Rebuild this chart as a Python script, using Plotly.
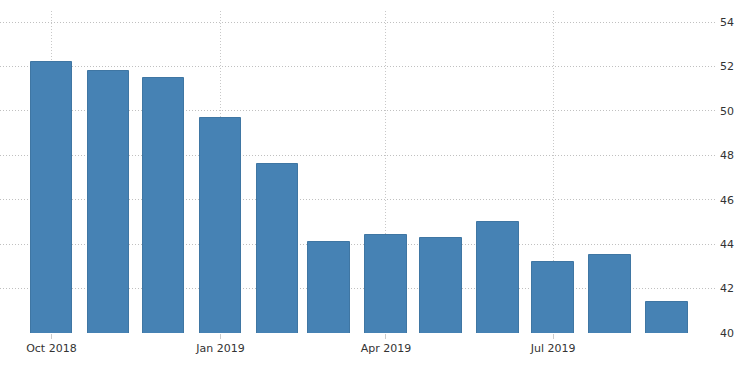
import plotly.graph_objects as go

months = ["2018-10-01", "2018-11-01", "2018-12-01", "2019-01-01", "2019-02-01", "2019-03-01",
          "2019-04-01", "2019-05-01", "2019-06-01", "2019-07-01", "2019-08-01", "2019-09-01"]
values = [52.2, 51.8, 51.5, 49.7, 47.6, 44.1, 44.4, 44.3, 45.0, 43.2, 43.5, 41.4]
y_ticks = [40, 42, 44, 46, 48, 50, 52, 54]

DAY = 86400000

fig = go.Figure(go.Bar(
    x=months, y=values,
    width=[22.6 * DAY] * len(months),
    marker=dict(color="#4682b4", line=dict(color="#3f76a3", width=1)),
    hoverinfo="x+y",
))

fig.update_layout(
    width=750, height=373,
    margin=dict(l=0, r=34, t=11, b=40),
    plot_bgcolor="white", paper_bgcolor="white",
    showlegend=False,
    font=dict(family="DejaVu Sans, Verdana, sans-serif", size=11, color="#333333"),
    bargap=0,
)
fig.update_xaxes(
    type="date",
    range=["2018-09-03 01:00", "2019-09-27 14:00"],
    tick0="2018-10-01", dtick="M3", tickformat="%b %Y",
    showgrid=True, gridcolor="#c8c8c8", griddash="1px,2px", gridwidth=1,
    ticks="outside", ticklen=5, tickcolor="#cccccc",
    showline=False, zeroline=False,
    tickfont=dict(size=11, color="#333333"),
)
fig.update_yaxes(
    side="right",
    range=[40, 54.5],
    tickvals=y_ticks,
    showgrid=True, gridcolor="#c0c0c0", griddash="1px,2px", gridwidth=1,
    zeroline=False, showline=False,
    ticks="", ticklabelstandoff=3,
    tickfont=dict(size=11, color="#333333"),
)

fig.write_html("out.html", config={"displayModeBar": False},
               post_script="document.body.style.margin='0';")
